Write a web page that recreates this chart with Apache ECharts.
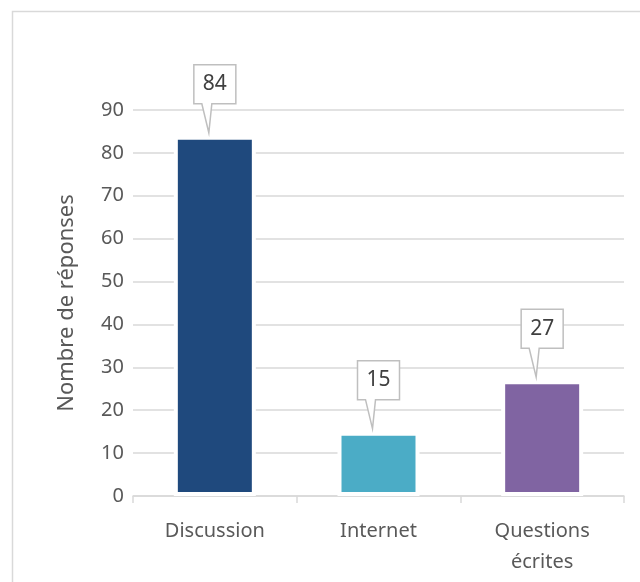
<!DOCTYPE html>
<html>
<head>
<meta charset="utf-8">
<style>
  html, body { margin: 0; padding: 0; background: #fff; }
  #chart { width: 640px; height: 582px; }
</style>
<script src="https://cdn.jsdelivr.net/npm/echarts@6/dist/echarts.min.js"></script>
</head>
<body>
<div id="chart"></div>
<script>
// Survey responses by channel
const categories = ['Discussion', 'Internet', 'Questions\nécrites'];
const responses = [84, 15, 27];
const barColors = ['#1F497D', '#4BACC6', '#8064A2'];
const yTicks = { min: 0, max: 90, interval: 10 };
const yAxisTitle = 'Nombre de réponses';

const FONT = '"Noto Sans", "Open Sans", sans-serif';

const chart = echarts.init(document.getElementById('chart'), null, { renderer: 'canvas' });

// Callout box with a pointer that sits above each bar
function renderCallout(params, api) {
  const idx = api.value(0);
  const val = api.value(1);
  const p = api.coord([idx, val]);
  const cx = p[0], ty = p[1];
  const left = cx - 21, right = cx + 21;
  const bottom = ty - 32, top = ty - 71;
  const pts = [
    [left, top], [right, top], [right, bottom],
    [cx - 3, bottom], [cx - 6, ty - 3], [cx - 13, bottom],
    [left, bottom]
  ];
  return {
    type: 'group',
    children: [
      {
        type: 'polygon',
        shape: { points: pts },
        style: { fill: '#fff', stroke: '#BFBFBF', lineWidth: 1.5 }
      },
      {
        type: 'text',
        style: {
          text: String(val),
          x: cx, y: (top + bottom) / 2,
          align: 'center', verticalAlign: 'middle',
          fill: '#404040', font: '21px ' + FONT
        }
      }
    ]
  };
}

chart.setOption({
  animation: false,
  backgroundColor: '#fff',
  graphic: [{
    type: 'rect',
    silent: true,
    shape: { x: 12.5, y: 11.5, width: 800, height: 800 },
    style: { fill: 'none', stroke: '#D9D9D9', lineWidth: 1.5 },
    z: -10
  }],
  grid: { left: 133, right: 16, top: 110, bottom: 86, containLabel: false },
  xAxis: {
    type: 'category',
    data: categories,
    axisLine: { lineStyle: { color: '#D9D9D9', width: 1.5 } },
    axisTick: { show: true, length: 7, lineStyle: { color: '#D9D9D9', width: 1.5 } },
    axisLabel: {
      color: '#595959', fontFamily: FONT, fontSize: 20,
      margin: 20, lineHeight: 31
    }
  },
  yAxis: {
    type: 'value',
    min: yTicks.min, max: yTicks.max, interval: yTicks.interval,
    name: yAxisTitle,
    nameLocation: 'middle',
    nameGap: 55,
    nameRotate: 90,
    nameTextStyle: { color: '#595959', fontFamily: FONT, fontSize: 22 },
    axisLine: { show: false },
    axisTick: { show: false },
    axisLabel: { color: '#595959', fontFamily: FONT, fontSize: 20, margin: 9 },
    splitLine: { lineStyle: { color: '#D9D9D9', width: 1.5 } }
  },
  series: [
    {
      type: 'bar',
      barWidth: 82,
      data: responses.map((v, i) => ({
        value: v,
        itemStyle: { color: barColors[i] }
      })),
      itemStyle: { borderColor: '#fff', borderWidth: 4 },
      z: 2
    },
    {
      type: 'custom',
      renderItem: renderCallout,
      data: responses.map((v, i) => [i, v]),
      z: 3
    }
  ]
});
</script>
</body>
</html>
